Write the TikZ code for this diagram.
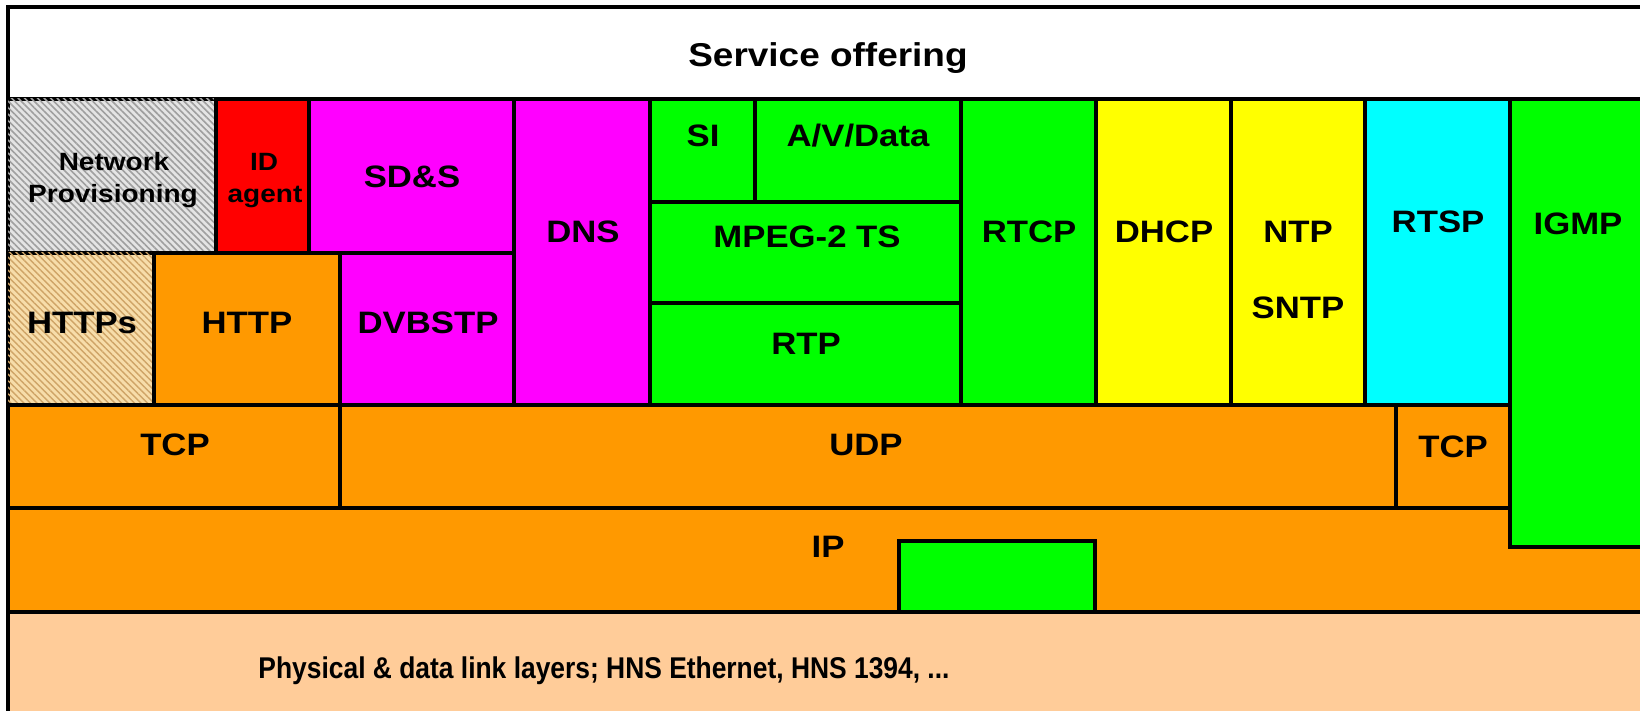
\documentclass[tikz,border=0pt]{standalone}
\usepackage{fontspec}
\setmainfont{Liberation Sans}
\newfontfamily\labfont[FakeStretch=1.12]{Liberation Sans}
\newfontfamily\physfont[FakeStretch=0.88]{Liberation Sans}
\usetikzlibrary{patterns.meta}
\definecolor{orng}{HTML}{FF9900}
\definecolor{mgnt}{HTML}{FF00FF}
\definecolor{grn}{HTML}{00FF00}
\definecolor{ylw}{HTML}{FFFF00}
\definecolor{cyn}{HTML}{00FFFF}
\definecolor{rd}{HTML}{FF0000}
\definecolor{peach}{HTML}{FFCC99}
\definecolor{tan}{HTML}{F7DDAA}
\definecolor{tanline}{HTML}{CFA467}
\definecolor{npgray}{HTML}{E4E4E4}
\begin{document}
\begin{tikzpicture}[x=1pt,y=-1pt,
  box/.style={draw=black, line width=3.4pt},
  lab/.style={anchor=base, inner sep=0pt, font=\labfont\fontsize{31}{33}\selectfont\bfseries, text=black},
  smalllab/.style={anchor=base, inner sep=0pt, font=\labfont\fontsize{25}{27}\selectfont\bfseries, text=black},
  hatchgray/.style={fill=npgray, postaction={pattern={Lines[angle=-45,distance=4.6pt,line width=1.6pt]}, pattern color=gray!75}},
  hatchtan/.style={fill=tan, postaction={pattern={Lines[angle=-45,distance=4.6pt,line width=1.4pt]}, pattern color=tanline}}
]
\useasboundingbox (0,0) rectangle (1640,711);
\fill[white] (0,0) rectangle (1640,711);

% service offering
\path[box, fill=white] (8,7) rectangle (1660,99);
% upper rows
\path[box, hatchgray] (8,99) rectangle (216,253);
\path[box, fill=rd] (216,99) rectangle (309,253);
\path[box, fill=mgnt] (309,99) rectangle (514,253);
\path[box, hatchtan] (8,253) rectangle (154,405);
\path[box, fill=orng] (154,253) rectangle (340,405);
\path[box, fill=mgnt] (340,253) rectangle (514,405);
\path[box, fill=mgnt] (514,99) rectangle (650,405);
\path[box, fill=grn] (650,99) rectangle (755,202);
\path[box, fill=grn] (755,99) rectangle (961,202);
\path[box, fill=grn] (650,202) rectangle (961,303);
\path[box, fill=grn] (650,303) rectangle (961,405);
\path[box, fill=grn] (961,99) rectangle (1096,405);
\path[box, fill=ylw] (1096,99) rectangle (1231,405);
\path[box, fill=ylw] (1231,99) rectangle (1365,405);
\path[box, fill=cyn] (1365,99) rectangle (1510,405);
% transport
\path[box, fill=orng] (8,405) rectangle (340,508);
\path[box, fill=orng] (340,405) rectangle (1396,508);
\path[box, fill=orng] (1396,405) rectangle (1510,508);
% IP
\path[box, fill=orng] (8,508) rectangle (1660,612);
\path[box, fill=grn] (1510,99) rectangle (1660,547);
\path[box, fill=grn] (899,541) rectangle (1095,612);
% physical
\path[box, fill=peach] (8,612) rectangle (1660,730);

% labels
\node[anchor=base, inner sep=0pt, font=\labfont\fontsize{33}{35}\selectfont\bfseries, text=black] (svc) at (828,67) {Service offering};
\node[smalllab] (np1) at (114,171) {Network};
\node[smalllab] (np2) at (113,203) {Provisioning};
\node[smalllab] (id1) at (264,171) {ID};
\node[smalllab] (id2) at (265,203) {agent};
\node[lab] (sds) at (412,188) {SD\&S};
\node[lab] (https) at (82,333) {HTTPs};
\node[lab] (http) at (247,333) {HTTP};
\node[lab] (dvbstp) at (428,333) {DVBSTP};
\node[lab] (dns) at (583,243) {DNS};
\node[lab] (si) at (703,147) {SI};
\node[lab] (avd) at (858,147) {A/V/Data};
\node[lab] (mpeg) at (807,248) {MPEG-2 TS};
\node[lab] (rtp) at (806,354) {RTP};
\node[lab] (rtcp) at (1029,243) {RTCP};
\node[lab] (dhcp) at (1164,243) {DHCP};
\node[lab] (ntp) at (1298,243) {NTP};
\node[lab] (sntp) at (1298,318) {SNTP};
\node[lab] (rtsp) at (1438,233) {RTSP};
\node[lab] (igmp) at (1578,235) {IGMP};
\node[lab] (tcpl) at (175,455) {TCP};
\node[lab] (udp) at (866,455) {UDP};
\node[lab] (tcpr) at (1453,457) {TCP};
\node[lab] (ip) at (828,557) {IP};
\node[anchor=base, inner sep=0pt, font=\physfont\fontsize{30}{32}\selectfont\bfseries, text=black] (phys) at (604,678) {Physical \& data link layers; HNS Ethernet, HNS 1394, ...};
\end{tikzpicture}
\end{document}
